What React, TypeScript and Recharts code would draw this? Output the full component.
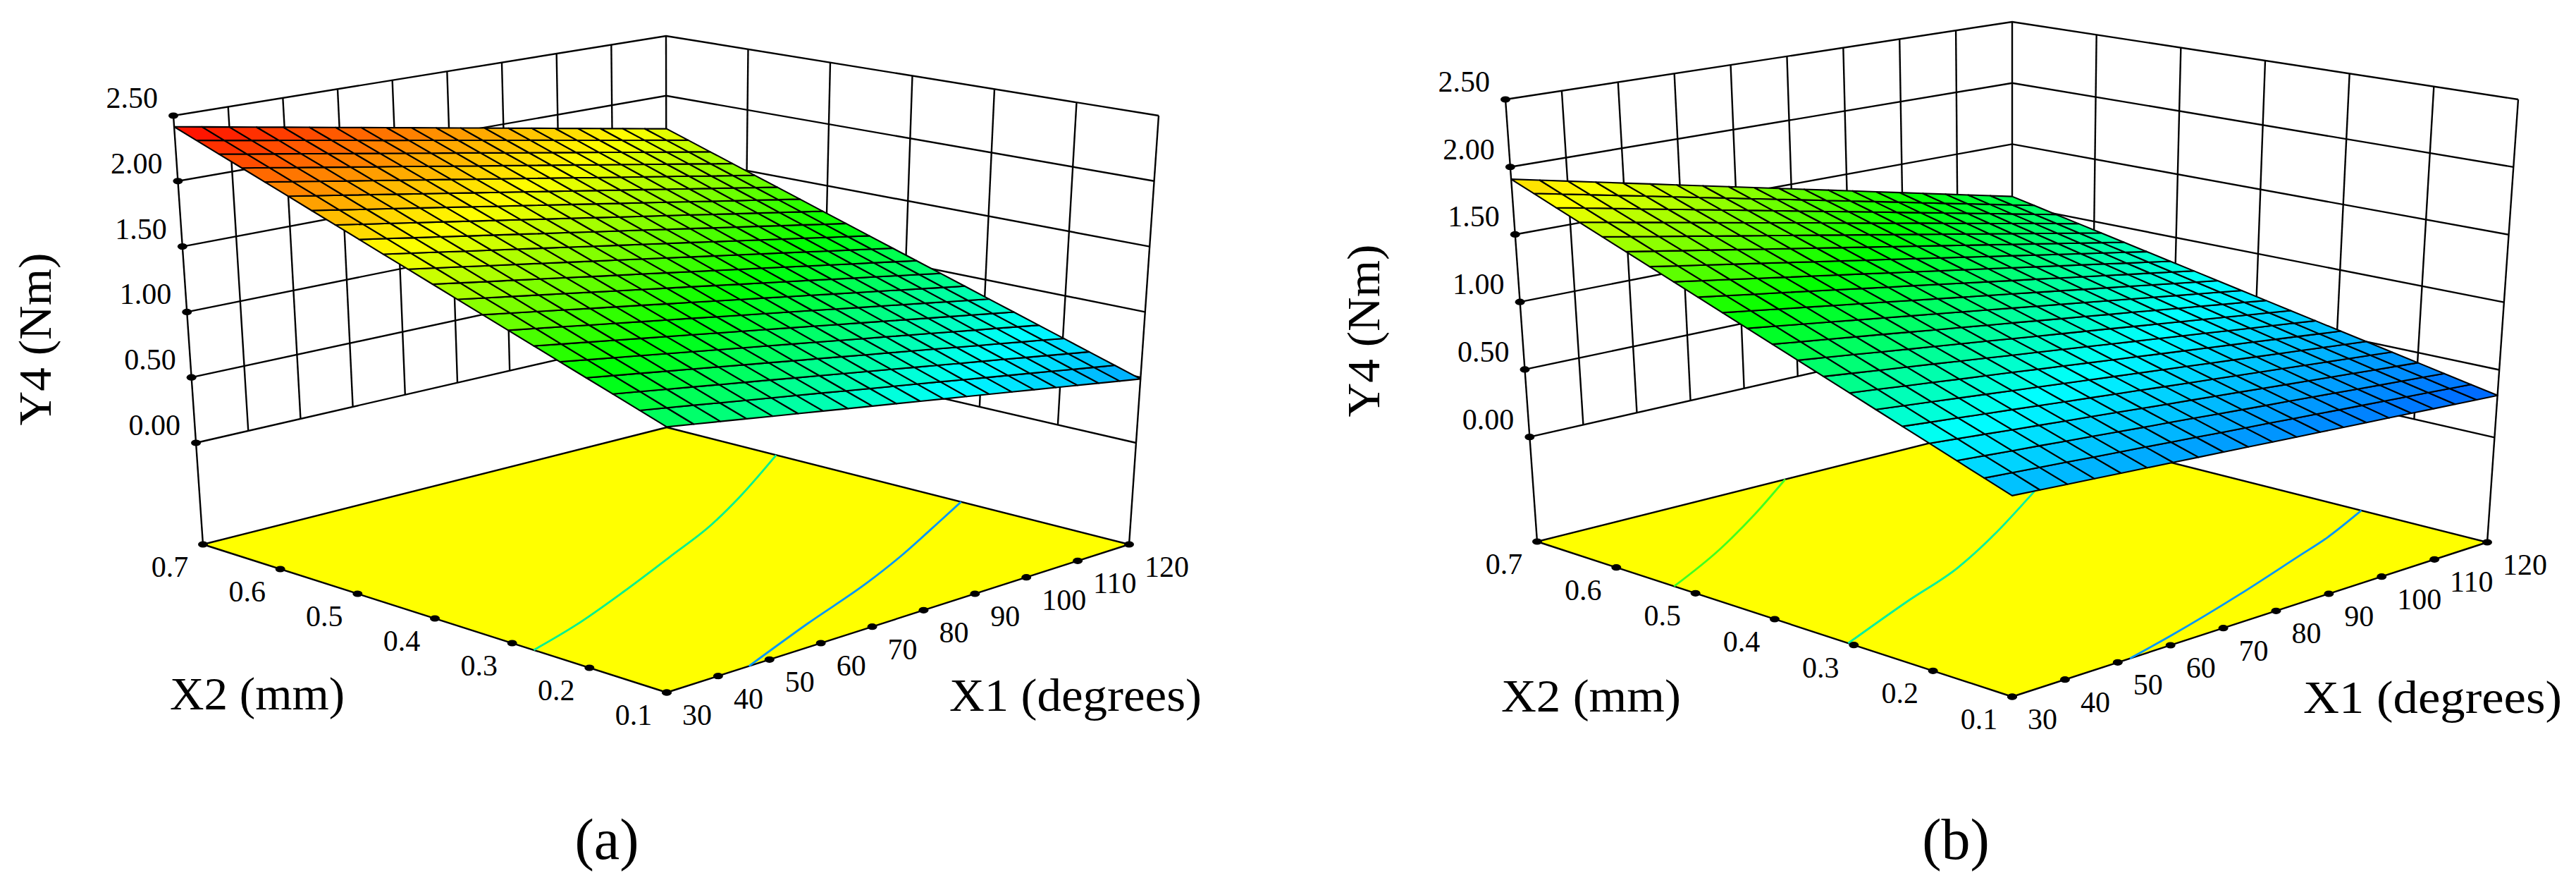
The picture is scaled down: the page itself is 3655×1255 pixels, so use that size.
import { ScatterChart, Scatter, XAxis, YAxis, Polygon } from 'recharts'

const WIDTH = 3655
const HEIGHT = 1255
const FONT = '"Liberation Serif", serif'

const X1_TICKS = [30, 40, 50, 60, 70, 80, 90, 100, 110, 120]
const X2_TICKS = [0.1, 0.2, 0.3, 0.4, 0.5, 0.6, 0.7]
const Y4_TICKS = [0, 0.5, 1, 1.5, 2, 2.5]

// Y4, one row per X2 step (0.1 -> 0.7), one value per X1 step (30 -> 120)
const Y4_A = [
  [1.100, 1.072, 1.044, 1.016, 0.988, 0.960, 0.932, 0.904, 0.876, 0.848, 0.820, 0.792, 0.764, 0.736, 0.708, 0.680, 0.652, 0.624, 0.596, 0.568, 0.540],
  [1.166, 1.138, 1.110, 1.081, 1.053, 1.025, 0.997, 0.969, 0.940, 0.912, 0.884, 0.856, 0.828, 0.799, 0.771, 0.743, 0.715, 0.687, 0.658, 0.630, 0.602],
  [1.232, 1.204, 1.175, 1.147, 1.118, 1.090, 1.062, 1.033, 1.005, 0.976, 0.948, 0.920, 0.891, 0.863, 0.834, 0.806, 0.778, 0.749, 0.721, 0.692, 0.664],
  [1.298, 1.269, 1.241, 1.212, 1.184, 1.155, 1.126, 1.098, 1.069, 1.041, 1.012, 0.983, 0.955, 0.926, 0.898, 0.869, 0.840, 0.812, 0.783, 0.755, 0.726],
  [1.364, 1.335, 1.306, 1.278, 1.249, 1.220, 1.191, 1.162, 1.134, 1.105, 1.076, 1.047, 1.018, 0.990, 0.961, 0.932, 0.903, 0.874, 0.846, 0.817, 0.788],
  [1.430, 1.401, 1.372, 1.343, 1.314, 1.285, 1.256, 1.227, 1.198, 1.169, 1.140, 1.111, 1.082, 1.053, 1.024, 0.995, 0.966, 0.937, 0.908, 0.879, 0.850],
  [1.496, 1.467, 1.438, 1.408, 1.379, 1.350, 1.321, 1.292, 1.262, 1.233, 1.204, 1.175, 1.146, 1.116, 1.087, 1.058, 1.029, 1.000, 0.970, 0.941, 0.912],
  [1.562, 1.533, 1.503, 1.474, 1.444, 1.415, 1.386, 1.356, 1.327, 1.297, 1.268, 1.239, 1.209, 1.180, 1.150, 1.121, 1.092, 1.062, 1.033, 1.003, 0.974],
  [1.628, 1.598, 1.569, 1.539, 1.510, 1.480, 1.450, 1.421, 1.391, 1.362, 1.332, 1.302, 1.273, 1.243, 1.214, 1.184, 1.154, 1.125, 1.095, 1.066, 1.036],
  [1.694, 1.664, 1.634, 1.605, 1.575, 1.545, 1.515, 1.485, 1.456, 1.426, 1.396, 1.366, 1.336, 1.307, 1.277, 1.247, 1.217, 1.187, 1.158, 1.128, 1.098],
  [1.760, 1.730, 1.700, 1.670, 1.640, 1.610, 1.580, 1.550, 1.520, 1.490, 1.460, 1.430, 1.400, 1.370, 1.340, 1.310, 1.280, 1.250, 1.220, 1.190, 1.160],
  [1.826, 1.796, 1.766, 1.735, 1.705, 1.675, 1.645, 1.615, 1.584, 1.554, 1.524, 1.494, 1.464, 1.433, 1.403, 1.373, 1.343, 1.313, 1.282, 1.252, 1.222],
  [1.892, 1.862, 1.831, 1.801, 1.770, 1.740, 1.710, 1.679, 1.649, 1.618, 1.588, 1.558, 1.527, 1.497, 1.466, 1.436, 1.406, 1.375, 1.345, 1.314, 1.284],
  [1.958, 1.927, 1.897, 1.866, 1.836, 1.805, 1.774, 1.744, 1.713, 1.683, 1.652, 1.621, 1.591, 1.560, 1.530, 1.499, 1.468, 1.438, 1.407, 1.377, 1.346],
  [2.024, 1.993, 1.962, 1.932, 1.901, 1.870, 1.839, 1.808, 1.778, 1.747, 1.716, 1.685, 1.654, 1.624, 1.593, 1.562, 1.531, 1.500, 1.470, 1.439, 1.408],
  [2.090, 2.059, 2.028, 1.997, 1.966, 1.935, 1.904, 1.873, 1.842, 1.811, 1.780, 1.749, 1.718, 1.687, 1.656, 1.625, 1.594, 1.563, 1.532, 1.501, 1.470],
  [2.156, 2.125, 2.094, 2.062, 2.031, 2.000, 1.969, 1.938, 1.906, 1.875, 1.844, 1.813, 1.782, 1.750, 1.719, 1.688, 1.657, 1.626, 1.594, 1.563, 1.532],
  [2.222, 2.191, 2.159, 2.128, 2.096, 2.065, 2.034, 2.002, 1.971, 1.939, 1.908, 1.877, 1.845, 1.814, 1.782, 1.751, 1.720, 1.688, 1.657, 1.625, 1.594],
  [2.288, 2.256, 2.225, 2.193, 2.162, 2.130, 2.098, 2.067, 2.035, 2.004, 1.972, 1.940, 1.909, 1.877, 1.846, 1.814, 1.782, 1.751, 1.719, 1.688, 1.656],
  [2.354, 2.322, 2.290, 2.259, 2.227, 2.195, 2.163, 2.131, 2.100, 2.068, 2.036, 2.004, 1.972, 1.941, 1.909, 1.877, 1.845, 1.813, 1.782, 1.750, 1.718],
  [2.420, 2.388, 2.356, 2.324, 2.292, 2.260, 2.228, 2.196, 2.164, 2.132, 2.100, 2.068, 2.036, 2.004, 1.972, 1.940, 1.908, 1.876, 1.844, 1.812, 1.780],
]

const Y4_B = [
  [0.600, 0.588, 0.576, 0.564, 0.552, 0.540, 0.528, 0.516, 0.504, 0.492, 0.480, 0.468, 0.456, 0.444, 0.432, 0.420, 0.408, 0.396, 0.384, 0.372, 0.360],
  [0.667, 0.654, 0.640, 0.627, 0.613, 0.600, 0.587, 0.573, 0.560, 0.546, 0.533, 0.520, 0.506, 0.493, 0.479, 0.466, 0.453, 0.439, 0.426, 0.412, 0.399],
  [0.734, 0.719, 0.704, 0.690, 0.675, 0.660, 0.645, 0.630, 0.616, 0.601, 0.586, 0.571, 0.556, 0.542, 0.527, 0.512, 0.497, 0.482, 0.468, 0.453, 0.438],
  [0.801, 0.785, 0.769, 0.752, 0.736, 0.720, 0.704, 0.688, 0.671, 0.655, 0.639, 0.623, 0.607, 0.590, 0.574, 0.558, 0.542, 0.526, 0.509, 0.493, 0.477],
  [0.868, 0.850, 0.833, 0.815, 0.798, 0.780, 0.762, 0.745, 0.727, 0.710, 0.692, 0.674, 0.657, 0.639, 0.622, 0.604, 0.586, 0.569, 0.551, 0.534, 0.516],
  [0.935, 0.916, 0.897, 0.878, 0.859, 0.840, 0.821, 0.802, 0.783, 0.764, 0.745, 0.726, 0.707, 0.688, 0.669, 0.650, 0.631, 0.612, 0.593, 0.574, 0.555],
  [1.002, 0.982, 0.961, 0.941, 0.920, 0.900, 0.880, 0.859, 0.839, 0.818, 0.798, 0.778, 0.757, 0.737, 0.716, 0.696, 0.676, 0.655, 0.635, 0.614, 0.594],
  [1.069, 1.047, 1.025, 1.004, 0.982, 0.960, 0.938, 0.916, 0.895, 0.873, 0.851, 0.829, 0.807, 0.786, 0.764, 0.742, 0.720, 0.698, 0.677, 0.655, 0.633],
  [1.136, 1.113, 1.090, 1.066, 1.043, 1.020, 0.997, 0.974, 0.950, 0.927, 0.904, 0.881, 0.858, 0.834, 0.811, 0.788, 0.765, 0.742, 0.718, 0.695, 0.672],
  [1.203, 1.178, 1.154, 1.129, 1.105, 1.080, 1.055, 1.031, 1.006, 0.982, 0.957, 0.932, 0.908, 0.883, 0.859, 0.834, 0.809, 0.785, 0.760, 0.736, 0.711],
  [1.270, 1.244, 1.218, 1.192, 1.166, 1.140, 1.114, 1.088, 1.062, 1.036, 1.010, 0.984, 0.958, 0.932, 0.906, 0.880, 0.854, 0.828, 0.802, 0.776, 0.750],
  [1.337, 1.310, 1.282, 1.255, 1.227, 1.200, 1.173, 1.145, 1.118, 1.090, 1.063, 1.036, 1.008, 0.981, 0.953, 0.926, 0.899, 0.871, 0.844, 0.816, 0.789],
  [1.404, 1.375, 1.346, 1.318, 1.289, 1.260, 1.231, 1.202, 1.174, 1.145, 1.116, 1.087, 1.058, 1.030, 1.001, 0.972, 0.943, 0.914, 0.886, 0.857, 0.828],
  [1.471, 1.441, 1.411, 1.380, 1.350, 1.320, 1.290, 1.260, 1.229, 1.199, 1.169, 1.139, 1.109, 1.078, 1.048, 1.018, 0.988, 0.958, 0.927, 0.897, 0.867],
  [1.538, 1.506, 1.475, 1.443, 1.412, 1.380, 1.348, 1.317, 1.285, 1.254, 1.222, 1.190, 1.159, 1.127, 1.096, 1.064, 1.032, 1.001, 0.969, 0.938, 0.906],
  [1.605, 1.572, 1.539, 1.506, 1.473, 1.440, 1.407, 1.374, 1.341, 1.308, 1.275, 1.242, 1.209, 1.176, 1.143, 1.110, 1.077, 1.044, 1.011, 0.978, 0.945],
  [1.672, 1.638, 1.603, 1.569, 1.534, 1.500, 1.466, 1.431, 1.397, 1.362, 1.328, 1.294, 1.259, 1.225, 1.190, 1.156, 1.122, 1.087, 1.053, 1.018, 0.984],
  [1.739, 1.703, 1.667, 1.632, 1.596, 1.560, 1.524, 1.488, 1.453, 1.417, 1.381, 1.345, 1.309, 1.274, 1.238, 1.202, 1.166, 1.130, 1.095, 1.059, 1.023],
  [1.806, 1.769, 1.732, 1.694, 1.657, 1.620, 1.583, 1.546, 1.508, 1.471, 1.434, 1.397, 1.360, 1.322, 1.285, 1.248, 1.211, 1.174, 1.136, 1.099, 1.062],
  [1.873, 1.834, 1.796, 1.757, 1.719, 1.680, 1.641, 1.603, 1.564, 1.526, 1.487, 1.448, 1.410, 1.371, 1.333, 1.294, 1.255, 1.217, 1.178, 1.140, 1.101],
  [1.940, 1.900, 1.860, 1.820, 1.780, 1.740, 1.700, 1.660, 1.620, 1.580, 1.540, 1.500, 1.460, 1.420, 1.380, 1.340, 1.300, 1.260, 1.220, 1.180, 1.140],
]

// contour lines on the floor, [X1, X2]
const CONTOURS_A = [
  { color: '#00f090', points: [[30, 0.272], [42.1, 0.298], [57.4, 0.339], [73.7, 0.387], [88.9, 0.434], [101.2, 0.48], [120, 0.558]] },
  { color: '#0096ff', points: [[46, 0.1], [64.9, 0.15], [84, 0.199], [95.9, 0.235], [112.3, 0.291], [120, 0.318]] },
]
const CONTOURS_B = [
  { color: '#40ff20', points: [[30, 0.527], [46.6, 0.58], [62, 0.638], [77, 0.7]] },
  { color: '#00f0a0', points: [[30, 0.307], [49.1, 0.358], [64.2, 0.397], [78.4, 0.446], [96, 0.515], [100.2, 0.532]] },
  { color: '#0096ff', points: [[52.3, 0.1], [62.9, 0.119], [82, 0.159], [99.1, 0.2], [108, 0.222], [120, 0.259]] },
]

// colour stops of the surface, by Y4
const COLOR_STOPS: [number, number[]][] = [
  [0.08, [0, 0, 255]],
  [0.8, [0, 255, 255]],
  [1.3, [0, 255, 0]],
  [1.82, [255, 255, 0]],
  [2.42, [255, 0, 0]],
]

interface Panel {
  name: string
  rows: number[][]
  contours: { color: string; points: number[][] }[]
  floorZ: number
  // box corners on the page: floor then top
  front: number[]; right: number[]; back: number[]; left: number[]
  topFront: number[]; topRight: number[]; topBack: number[]; topLeft: number[]
  // perspective terms for the surface
  g: number; h: number; k: number; cx: number; cy: number
  yTitle: { x: number; y: number }
  x2Title: { x: number; y: number; len: number }
  x1Title: { x: number; y: number; len: number }
  tag: { x: number; y: number }
}

const PANELS: Panel[] = [
  {
    name: '(a)', rows: Y4_A, contours: CONTOURS_A, floorZ: -0.776,
    front: [946, 982], right: [1602, 772], back: [946, 606], left: [288, 772],
    topFront: [946, 304], topRight: [1644, 164], topBack: [945, 51], topLeft: [246, 164],
    g: 0.134, h: 0.131, k: -0.0679, cx: -64.2, cy: -698.8,
    yTitle: { x: 72, y: 481 },
    x2Title: { x: 241, y: 1006, len: 248 },
    x1Title: { x: 1347, y: 1008, len: 358 },
    tag: { x: 861, y: 1218 },
  },
  {
    name: '(b)', rows: Y4_B, contours: CONTOURS_B, floorZ: -0.775,
    front: [2855, 988], right: [3529, 769], back: [2855, 599], left: [2181, 768],
    topFront: [2855, 278], topRight: [3573, 141], topBack: [2855, 31], topLeft: [2136, 141],
    g: 0.1475, h: 0.1475, k: -0.0719, cx: -205.3, cy: -729.6,
    yTitle: { x: 1957, y: 469 },
    x2Title: { x: 2130, y: 1009, len: 255 },
    x1Title: { x: 3268, y: 1011, len: 367 },
    tag: { x: 2775, y: 1218 },
  },
]

const lerp = (a: number, b: number, t: number) => a + (b - a) * t
const normX1 = (v: number) => (v - 30) / 90
const normX2 = (v: number) => (v - 0.1) / 0.6
const heightOf = (p: Panel, z: number) => (z - p.floorZ) / (2.5 - p.floorZ)

// box, walls and ticks are evenly spaced along their edges
function framePoint(p: Panel, u: number, v: number, t: number) {
  const corner = (i: number) => {
    const floor = lerp(lerp(p.front[i], p.right[i], u), lerp(p.left[i], p.back[i], u), v)
    const top = lerp(lerp(p.topFront[i], p.topRight[i], u), lerp(p.topLeft[i], p.topBack[i], u), v)
    return lerp(floor, top, t)
  }
  return { x: corner(0), y: corner(1) }
}

// the surface itself has real perspective
function surfacePoint(p: Panel, u: number, v: number, t: number) {
  const w = 1 + p.g * u + p.h * v + p.k * t
  const num = (i: number, c: number) =>
    p.front[i] + (p.right[i] * (1 + p.g) - p.front[i]) * u + (p.left[i] * (1 + p.h) - p.front[i]) * v + c * t
  return { x: num(0, p.cx) / w, y: num(1, p.cy) / w }
}

function colorOf(z: number) {
  for (let i = 1; i < COLOR_STOPS.length; i++) {
    const [z1, c1] = COLOR_STOPS[i]
    const [z0, c0] = COLOR_STOPS[i - 1]
    if (z <= z1) {
      const t = Math.max(0, (z - z0) / (z1 - z0))
      return `rgb(${c0.map((c, n) => Math.round(lerp(c, c1[n], t))).join(',')})`
    }
  }
  return 'rgb(255,0,0)'
}

function buildCells(p: Panel) {
  const cells = []
  const last = p.rows.length - 1
  for (let r = 0; r < last; r++) {
    for (let c = 0; c < last; c++) {
      const ids = [[r, c], [r, c + 1], [r + 1, c + 1], [r + 1, c]]
      const corners = ids.map(([a, b]) => surfacePoint(p, b / last, a / last, heightOf(p, p.rows[a][b])))
      const mean = ids.reduce((s, [a, b]) => s + p.rows[a][b], 0) / 4
      cells.push({ x: corners[0].x, y: corners[0].y, corners, fill: colorOf(mean), stroke: '#000', strokeWidth: 2.1 })
    }
  }
  return cells
}

function buildWalls(p: Panel) {
  const paths: { x: number; y: number }[][] = []
  Y4_TICKS.forEach((z) => {
    const t = heightOf(p, z)
    paths.push([framePoint(p, 0, 1, t), framePoint(p, 1, 1, t), framePoint(p, 1, 0, t)])
  })
  const t0 = heightOf(p, 0)
  X1_TICKS.slice(1, -1).forEach((x1) => {
    paths.push([framePoint(p, normX1(x1), 1, t0), framePoint(p, normX1(x1), 1, 1)])
  })
  X2_TICKS.slice(1, -1).forEach((x2) => {
    paths.push([framePoint(p, 1, normX2(x2), t0), framePoint(p, 1, normX2(x2), 1)])
  })
  paths.push([framePoint(p, 0, 1, 0), framePoint(p, 0, 1, 1)])
  paths.push([framePoint(p, 1, 1, 0), framePoint(p, 1, 1, 1)])
  paths.push([framePoint(p, 1, 0, 0), framePoint(p, 1, 0, 1)])
  return paths
}

function buildDots(p: Panel) {
  return [
    ...Y4_TICKS.map((z) => framePoint(p, 0, 1, heightOf(p, z))),
    ...X2_TICKS.map((x2) => framePoint(p, 0, normX2(x2), 0)),
    ...X1_TICKS.map((x1) => framePoint(p, normX1(x1), 0, 0)),
  ]
}

function buildLabels(p: Panel) {
  const labels: any[] = []
  Y4_TICKS.forEach((z) => {
    const at = framePoint(p, 0, 1, heightOf(p, z))
    labels.push({ x: at.x - 22, y: at.y - 11, text: z.toFixed(2), anchor: 'end', size: 42 })
  })
  X2_TICKS.forEach((x2) => {
    const at = framePoint(p, 0, normX2(x2), 0)
    labels.push({ x: at.x - 47, y: at.y + 46, text: x2.toFixed(1), anchor: 'middle', size: 42 })
  })
  X1_TICKS.forEach((x1) => {
    const at = framePoint(p, normX1(x1), 0, 0)
    labels.push({ x: at.x + 22, y: at.y + 46, text: String(x1), anchor: 'start', size: 42 })
  })
  labels.push({ x: p.yTitle.x, y: p.yTitle.y, text: 'Y4 (Nm)', anchor: 'middle', size: 65, rotate: true, len: 245 })
  labels.push({ x: p.x2Title.x, y: p.x2Title.y, text: 'X2 (mm)', anchor: 'start', size: 65, len: p.x2Title.len })
  labels.push({ x: p.x1Title.x, y: p.x1Title.y, text: 'X1 (degrees)', anchor: 'start', size: 65, len: p.x1Title.len })
  labels.push({ x: p.tag.x, y: p.tag.y, text: p.name, anchor: 'middle', size: 82 })
  return labels
}

const NoDot = () => null

// the axes map 1:1 onto the page, so corners can be taken relative to the point
function PolygonShape({ cx, cy, payload }: any) {
  const points = payload.corners.map((c: any) => ({ x: cx + c.x - payload.x, y: cy + c.y - payload.y }))
  return (
    <Polygon
      points={points}
      fill={payload.fill}
      stroke={payload.stroke}
      strokeWidth={payload.strokeWidth}
      strokeLinejoin="round"
    />
  )
}

function DotShape({ cx, cy }: any) {
  return <ellipse cx={cx} cy={cy} rx={7} ry={4.6} fill="#000" />
}

function LabelShape({ cx, cy, payload }: any) {
  return (
    <text
      x={cx}
      y={cy}
      fill="#000"
      fontFamily={FONT}
      fontSize={payload.size}
      textAnchor={payload.anchor}
      textLength={payload.len}
      lengthAdjust={payload.len ? 'spacingAndGlyphs' : undefined}
      transform={payload.rotate ? `rotate(-90 ${cx} ${cy})` : undefined}
    >
      {payload.text}
    </text>
  )
}

export default function App() {
  const series: React.ReactNode[] = []

  PANELS.forEach((p) => {
    const floor = [
      framePoint(p, 0, 0, 0),
      framePoint(p, 1, 0, 0),
      framePoint(p, 1, 1, 0),
      framePoint(p, 0, 1, 0),
    ]
    series.push(
      <Scatter
        key={`${p.name}-floor`}
        data={[{ x: floor[0].x, y: floor[0].y, corners: floor, fill: '#ffff00', stroke: '#000', strokeWidth: 2.4 }]}
        shape={PolygonShape}
        isAnimationActive={false}
      />
    )
    p.contours.forEach((line, i) => {
      series.push(
        <Scatter
          key={`${p.name}-contour-${i}`}
          data={line.points.map(([x1, x2]) => framePoint(p, normX1(x1), normX2(x2), 0))}
          line={{ stroke: line.color, strokeWidth: 2.8 }}
          lineJointType="monotoneX"
          shape={NoDot}
          isAnimationActive={false}
        />
      )
    })
    buildWalls(p).forEach((path, i) => {
      series.push(
        <Scatter
          key={`${p.name}-wall-${i}`}
          data={path}
          line={{ stroke: '#000', strokeWidth: 2.4 }}
          shape={NoDot}
          isAnimationActive={false}
        />
      )
    })
    series.push(
      <Scatter key={`${p.name}-dots`} data={buildDots(p)} shape={DotShape} isAnimationActive={false} />,
      <Scatter key={`${p.name}-cells`} data={buildCells(p)} shape={PolygonShape} isAnimationActive={false} />,
      <Scatter key={`${p.name}-labels`} data={buildLabels(p)} shape={LabelShape} isAnimationActive={false} />
    )
  })

  return (
    <div style={{ position: 'absolute', left: 0, top: 0, background: '#fff' }}>
      <ScatterChart width={WIDTH} height={HEIGHT} margin={{ top: 0, right: 0, bottom: 0, left: 0 }}>
        <XAxis type="number" dataKey="x" domain={[0, WIDTH]} hide />
        <YAxis type="number" dataKey="y" domain={[0, HEIGHT]} reversed hide />
        {series}
      </ScatterChart>
    </div>
  )
}
